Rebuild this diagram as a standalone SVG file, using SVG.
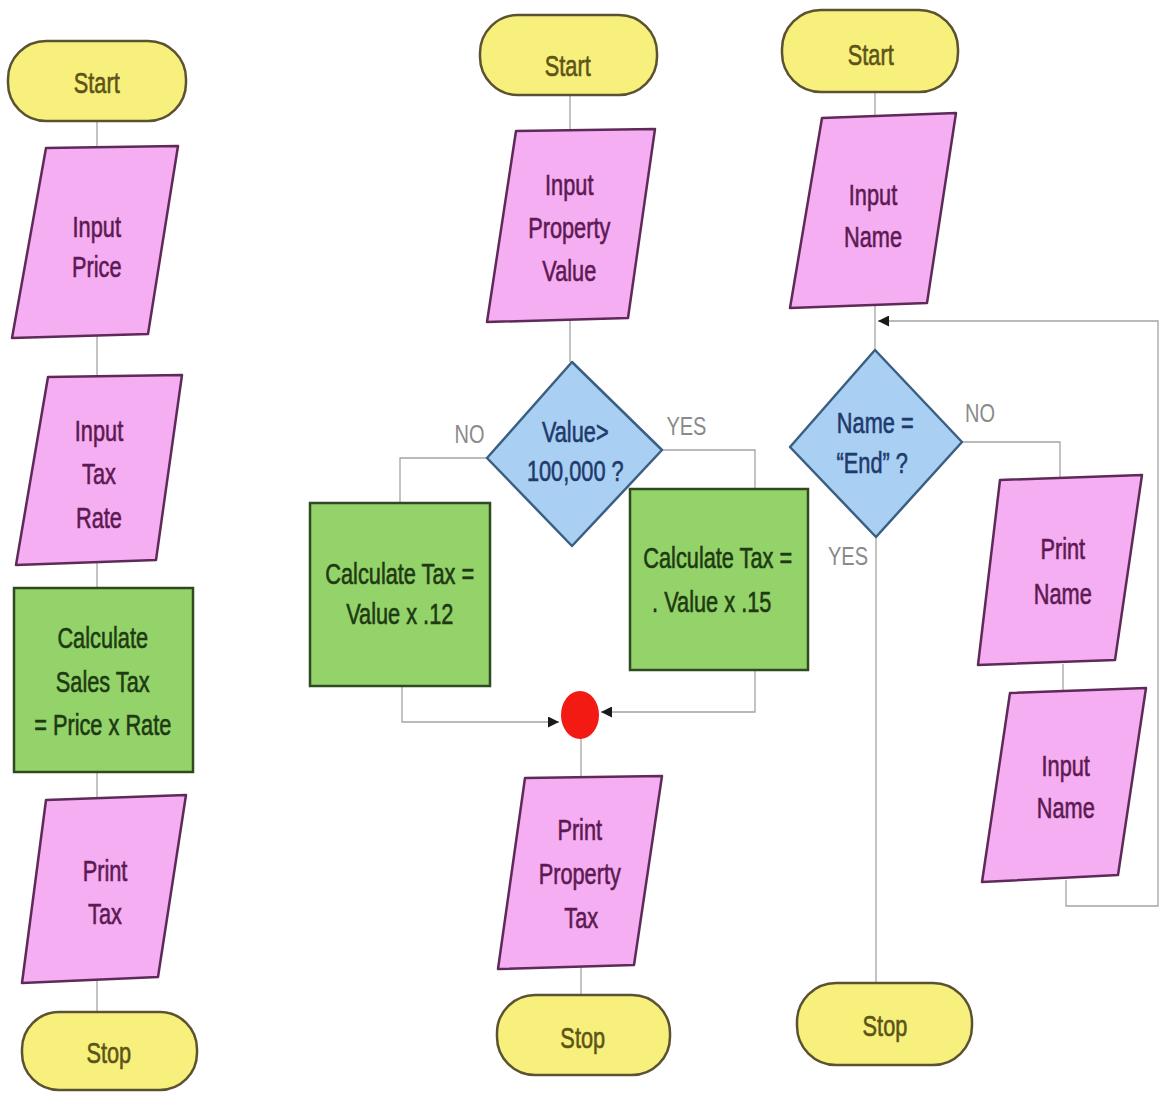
<svg xmlns="http://www.w3.org/2000/svg" width="1162" height="1093" viewBox="0 0 1162 1093">
  <style>
    .bg { fill: #ffffff; }
    .term { fill: #f8f07c; stroke: #5a5230; stroke-width: 2.5; }
    .io { fill: #f6aef2; stroke: #5e2a58; stroke-width: 2.5; stroke-linejoin: round; }
    .proc { fill: #93d36a; stroke: #2f4a22; stroke-width: 2.5; }
    .dec { fill: #a9cff2; stroke: #3b5f82; stroke-width: 2.5; stroke-linejoin: round; }
    .wire { fill: none; stroke: #a4a4a4; stroke-width: 1.3; }
    .lbl { font-family: "Liberation Sans", Arial, sans-serif; font-size: 29px; text-anchor: middle; transform: scale(0.75, 1); stroke-width: 0.6; }
    .tt { fill: #5c5418; stroke: #5c5418; }
    .ti { fill: #5c1a52; stroke: #5c1a52; }
    .tp { fill: #1e3a12; stroke: #1e3a12; }
    .td { fill: #1f3a6c; stroke: #1f3a6c; }
    .yn { font-family: "Liberation Sans", Arial, sans-serif; font-size: 25px; text-anchor: middle; fill: #8a8a8a; transform: scale(0.8, 1); }
  </style>
  <defs>
    <marker id="arr" viewBox="0 0 10 10" refX="10" refY="5" markerWidth="11" markerHeight="11" markerUnits="userSpaceOnUse" orient="auto">
      <path d="M0,0 L10,5 L0,10 z" fill="#1a1a1a"/>
    </marker>
  </defs>

  <rect class="bg" width="1162" height="1093"/>

  <!-- connectors -->
  <g id="connectors">
    <!-- sales tax column -->
    <path class="wire" d="M97,120 V1012"/>
    <!-- property tax column -->
    <path class="wire" d="M570,94 V362"/>
    <path class="wire" d="M487,458 H400 V503"/>
    <path class="wire" d="M662,450 H755 V489"/>
    <path class="wire" d="M402,686 V722 H559" marker-end="url(#arr)"/>
    <path class="wire" d="M755,670 V712 H601" marker-end="url(#arr)"/>
    <path class="wire" d="M581,738 V995"/>
    <!-- name loop column -->
    <path class="wire" d="M875,92 V350"/>
    <path class="wire" d="M962,442 H1060 V480"/>
    <path class="wire" d="M876,537 V983"/>
    <path class="wire" d="M1063,664 V692"/>
    <path class="wire" d="M1066,880 V906 H1158 V321 H878" marker-end="url(#arr)"/>
  </g>

  <!-- sales tax flowchart -->
  <g id="start-1">
    <rect class="term" x="8" y="41" width="178" height="80" rx="38"/>
    <text class="lbl tt" x="129" y="93">Start</text>
  </g>
  <g id="input-price">
    <polygon class="io" points="46,148 178,146 148,334 12,338"/>
    <text class="lbl ti" x="129" y="237">Input</text>
    <text class="lbl ti" x="129" y="277">Price</text>
  </g>
  <g id="input-rate">
    <polygon class="io" points="48,377 182,375 156,560 16,565"/>
    <text class="lbl ti" x="132" y="441">Input</text>
    <text class="lbl ti" x="132" y="484">Tax</text>
    <text class="lbl ti" x="132" y="528">Rate</text>
  </g>
  <g id="calc-sales">
    <rect class="proc" x="14" y="588" width="179" height="184"/>
    <text class="lbl tp" x="137" y="648">Calculate</text>
    <text class="lbl tp" x="137" y="692">Sales Tax</text>
    <text class="lbl tp" x="137" y="735">= Price x Rate</text>
  </g>
  <g id="print-tax">
    <polygon class="io" points="46,800 186,795 158,977 22,983"/>
    <text class="lbl ti" x="140" y="881">Print</text>
    <text class="lbl ti" x="140" y="924">Tax</text>
  </g>
  <g id="stop-1">
    <rect class="term" x="22" y="1012" width="175" height="78" rx="37"/>
    <text class="lbl tt" x="145" y="1063">Stop</text>
  </g>

  <!-- property tax flowchart -->
  <g id="start-2">
    <rect class="term" x="480" y="15" width="177" height="80" rx="38"/>
    <text class="lbl tt" x="757" y="76">Start</text>
  </g>
  <g id="input-value">
    <polygon class="io" points="516,131 655,129 628,318 487,322"/>
    <text class="lbl ti" x="759" y="195">Input</text>
    <text class="lbl ti" x="759" y="238">Property</text>
    <text class="lbl ti" x="759" y="281">Value</text>
  </g>
  <g id="value-check">
    <polygon class="dec" points="572,362 662,450 572,546 487,458"/>
    <text class="lbl td" x="767" y="442">Value&gt;</text>
    <text class="lbl td" x="767" y="481">100,000 ?</text>
    <text class="yn" x="587" y="443">NO</text>
    <text class="yn" x="858" y="435">YES</text>
  </g>
  <g id="tax-low">
    <rect class="proc" x="310" y="503" width="180" height="183"/>
    <text class="lbl tp" x="533" y="584">Calculate Tax =</text>
    <text class="lbl tp" x="533" y="624">Value x .12</text>
  </g>
  <g id="tax-high">
    <rect class="proc" x="630" y="489" width="178" height="181"/>
    <text class="lbl tp" x="957" y="568">Calculate Tax =</text>
    <text class="lbl tp" x="949" y="612">. Value x .15</text>
  </g>
  <g id="merge">
    <ellipse cx="580" cy="715" rx="19" ry="24" fill="#f21a12"/>
  </g>
  <g id="print-property">
    <polygon class="io" points="525,778 662,776 634,965 498,969"/>
    <text class="lbl ti" x="773" y="840">Print</text>
    <text class="lbl ti" x="773" y="884">Property</text>
    <text class="lbl ti" x="775" y="928">Tax</text>
  </g>
  <g id="stop-2">
    <rect class="term" x="497" y="995" width="173" height="80" rx="38"/>
    <text class="lbl tt" x="777" y="1048">Stop</text>
  </g>

  <!-- name loop flowchart -->
  <g id="start-3">
    <rect class="term" x="782" y="10" width="176" height="82" rx="39"/>
    <text class="lbl tt" x="1161" y="65">Start</text>
  </g>
  <g id="input-name">
    <polygon class="io" points="822,118 956,113 927,303 790,308"/>
    <text class="lbl ti" x="1164" y="205">Input</text>
    <text class="lbl ti" x="1164" y="247">Name</text>
  </g>
  <g id="name-check">
    <polygon class="dec" points="875,350 962,442 876,537 790,447"/>
    <text class="lbl td" x="1167" y="433">Name =</text>
    <text class="lbl td" x="1163" y="473">“End” ?</text>
    <text class="yn" x="1225" y="422">NO</text>
    <text class="yn" x="1060" y="565">YES</text>
  </g>
  <g id="print-name">
    <polygon class="io" points="1000,480 1142,475 1115,660 978,665"/>
    <text class="lbl ti" x="1417" y="559">Print</text>
    <text class="lbl ti" x="1417" y="604">Name</text>
  </g>
  <g id="input-name-2">
    <polygon class="io" points="1010,693 1146,688 1118,875 982,882"/>
    <text class="lbl ti" x="1421" y="776">Input</text>
    <text class="lbl ti" x="1421" y="818">Name</text>
  </g>
  <g id="stop-3">
    <rect class="term" x="797" y="983" width="175" height="82" rx="39"/>
    <text class="lbl tt" x="1180" y="1036">Stop</text>
  </g>
</svg>
